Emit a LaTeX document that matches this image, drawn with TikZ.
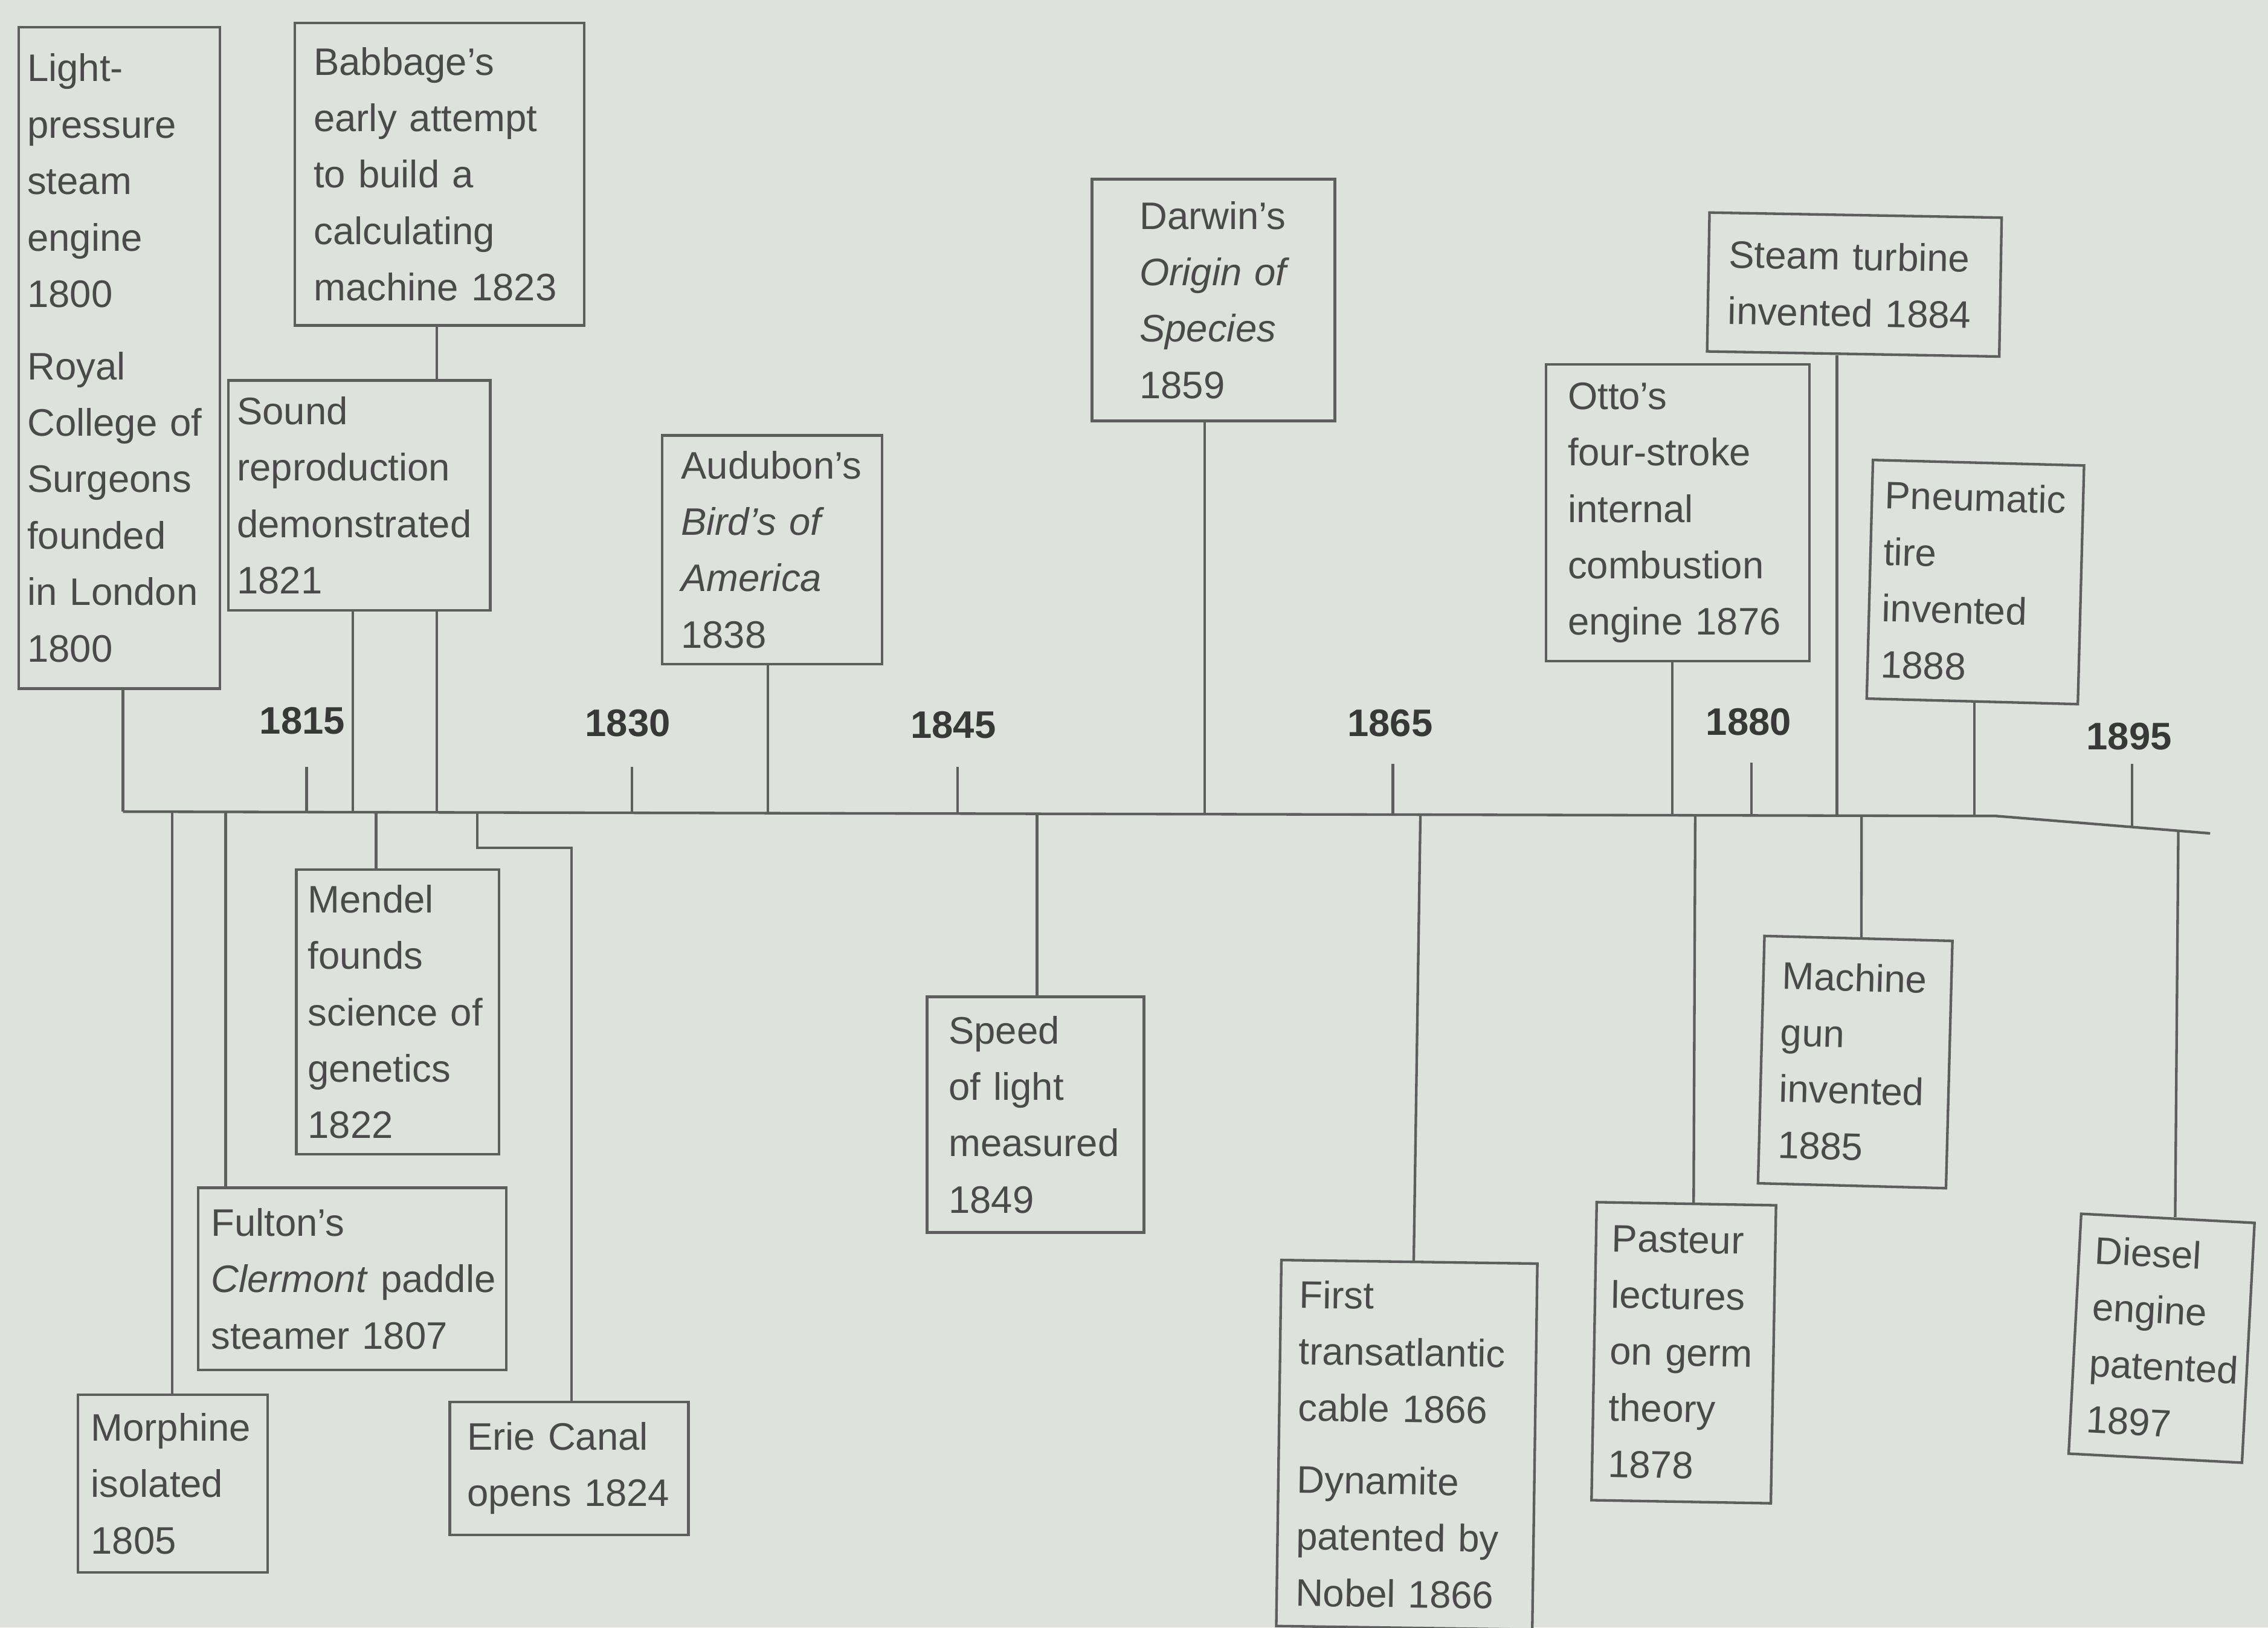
\documentclass[tikz,border=0pt]{standalone}
\usepackage{fontspec}
\setmainfont{Liberation Sans}
\usetikzlibrary{calc}
\definecolor{bg}{HTML}{DEE2DD}
\definecolor{ink}{HTML}{4A4A4A}
\definecolor{inkb}{HTML}{383838}
\definecolor{rulec}{HTML}{5E5E5E}
\hyphenpenalty=10000
\begin{document}
\begin{tikzpicture}[x=1pt,y=-1pt,
  evbox/.style={draw=rulec, line width=1.8pt, fill=bg, anchor=north west,
    inner xsep=0pt, inner ysep=0pt, align=left, text=ink,
    font=\fontsize{26.5}{39}\selectfont},
  year/.style={text=inkb, font=\bfseries\fontsize{26.5}{32}\selectfont, inner sep=0pt},
  conn/.style={draw=rulec, line width=1.8pt}]

\fill[bg] (0,0) rectangle (1568,1125);
\useasboundingbox (0,0) rectangle (1568,1125);

% ---------- boxes above the axis ----------
\node[evbox, minimum width=139pt, minimum height=457pt, text width=127pt] (light) at (12,18)
  {Light-\\pressure\\steam\\engine\\1800\\[11pt]Royal\\College~of\\Surgeons\\founded\\in~London\\1800};
\node[evbox, minimum width=200pt, minimum height=209pt, text width=174pt] (babbage) at (203,15)
  {Babbage's\\early~attempt\\to~build~a\\calculating\\machine~1823};
\node[evbox, minimum width=181pt, minimum height=159pt, text width=169pt] (sound) at (157,262)
  {Sound\\reproduction\\demonstrated\\1821};
\node[evbox, minimum width=152pt, minimum height=158pt, text width=126pt] (audubon) at (457,300)
  {Audubon's\\\textit{Bird's~of}\\\textit{America}\\1838};
\node[evbox, minimum width=168pt, minimum height=167pt, text width=102pt] (darwin) at (754,123)
  {Darwin's\\\textit{Origin~of}\\\textit{Species}\\1859};
\node[evbox, minimum width=182pt, minimum height=205pt, text width=152pt] (otto) at (1068,251)
  {Otto's\\four-stroke\\internal\\combustion\\engine~1876};
\node[evbox, minimum width=202pt, minimum height=96pt, text width=174pt, rotate=-1] (turbine) at (1181,146)
  {Steam~turbine\\invented~1884};
\node[evbox, minimum width=146pt, minimum height=165pt, text width=128pt, rotate=-1.5] (tire) at (1294,317)
  {Pneumatic\\tire\\invented\\1888};

% ---------- boxes below the axis ----------
\node[evbox, minimum width=140pt, minimum height=197pt, text width=124pt] (mendel) at (204,600)
  {Mendel\\founds\\science~of\\genetics\\1822};
\node[evbox, minimum width=213pt, minimum height=126pt, text width=195pt] (fulton) at (136,820)
  {Fulton's\\\mbox{\textit{Clermont} paddle}\\\mbox{steamer 1807}};
\node[evbox, minimum width=131pt, minimum height=123pt, text width=113pt] (morphine) at (53,963)
  {Morphine\\isolated\\1805};
\node[evbox, minimum width=165pt, minimum height=92pt, text width=141pt] (erie) at (310,968)
  {Erie~Canal\\opens~1824};
\node[evbox, minimum width=150pt, minimum height=163pt, text width=120pt] (speed) at (640,688)
  {Speed\\of~light\\measured\\1849};
\node[evbox, minimum width=177pt, minimum height=253pt, text width=151pt, rotate=-0.8] (cable) at (885,870)
  {First\\transatlantic\\cable~1866\\[11pt]Dynamite\\patented~by\\Nobel~1866};
\node[evbox, minimum width=124pt, minimum height=206pt, text width=102pt, rotate=-1] (pasteur) at (1103,830)
  {Pasteur\\lectures\\on~germ\\theory\\1878};
\node[evbox, minimum width=130pt, minimum height=171pt, text width=104pt, rotate=-1.5] (mgun) at (1219,646)
  {Machine\\gun\\invented\\1885};
\node[evbox, minimum width=120pt, minimum height=166pt, text width=98pt, rotate=-3] (diesel) at (1438,838)
  {Diesel\\engine\\patented\\1897};

% ---------- year labels ----------
\node[year] (y1815) at (209,498) {1815};
\node[year] (y1830) at (434,500) {1830};
\node[year] (y1845) at (659,501) {1845};
\node[year] (y1865) at (961,500) {1865};
\node[year] (y1880) at (1209,499) {1880};
\node[year] (y1895) at (1472,509) {1895};

% ---------- axis coordinates ----------
\coordinate (ax0) at (85,561);
\coordinate (ax1) at (1380,564);
\coordinate (ax2) at (1528,576);
\coordinate (a119) at (119,561);
\coordinate (a156) at (156,561);
\coordinate (a212) at (212,561);
\coordinate (a244) at (244,561);
\coordinate (a260) at (260,561);
\coordinate (a302) at (302,561);
\coordinate (a330) at (330,562);
\coordinate (e1) at (395,586);
\coordinate (a437) at (437,562);
\coordinate (a531) at (531,562);
\coordinate (a662) at (662,562);
\coordinate (a717) at (717,562);
\coordinate (a833) at (833,563);
\coordinate (a963) at (963,563);
\coordinate (a982) at (982,563);
\coordinate (a1156) at (1156,563);
\coordinate (a1172) at (1172,563);
\coordinate (a1211) at (1211,564);
\coordinate (a1270) at (1270,564);
\coordinate (a1287) at (1287,564);
\coordinate (a1365) at (1365,564);
\coordinate (a1474) at (1474,571);
\coordinate (a1506) at (1506,574);

% ---------- axis and ticks ----------
\draw[conn] (ax0) -- (ax1) -- (ax2);
\draw[conn] (a212) -- ++(0,-31);
\draw[conn] (a437) -- ++(0,-32);
\draw[conn] (a662) -- ++(0,-32);
\draw[conn] (a963) -- ++(0,-35);
\draw[conn] (a1211) -- ++(0,-37);
\draw[conn] (a1474) -- ++(0,-43);

% ---------- connectors ----------
\draw[conn] (ax0) -- (ax0 |- light.south);
\draw[conn] (a302 |- babbage.south) -- (a302 |- sound.north);
\draw[conn] (a302) -- (a302 |- sound.south);
\draw[conn] (a244) -- (a244 |- sound.south);
\draw[conn] (a531) -- (a531 |- audubon.south);
\draw[conn] (a833) -- (a833 |- darwin.south);
\draw[conn] (a1156) -- (a1156 |- otto.south);
\draw[conn] (a1270) -- (a1270 |- turbine.south);
\draw[conn] (a1365) -- (a1365 |- tire.south);
\draw[conn] (a260) -- (a260 |- mendel.north);
\draw[conn] (a156) -- (a156 |- fulton.north);
\draw[conn] (a119) -- (a119 |- morphine.north);
\draw[conn] (a330) |- (e1) -- (e1 |- erie.north);
\draw[conn] (a717) -- (a717 |- speed.north);
\draw[conn] (a982) -- ([xshift=3pt]cable.north);
\draw[conn] (a1172) -- ([xshift=5pt]pasteur.north);
\draw[conn] (a1287) -- ([xshift=2pt]mgun.north);
\draw[conn] (a1506) -- ([xshift=5pt]diesel.north);
\end{tikzpicture}
\end{document}
